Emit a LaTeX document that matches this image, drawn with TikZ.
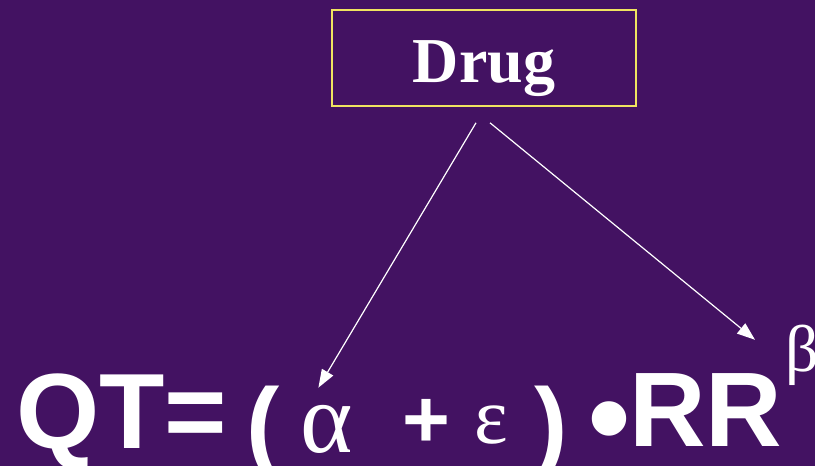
\documentclass[tikz,border=0pt]{standalone}
\usepackage{fontspec}
\usepackage{tikz}
\usetikzlibrary{arrows.meta, positioning}
\setmainfont{Liberation Serif}
\newfontfamily\armfont{Liberation Sans}
\newfontfamily\grkfont{Liberation Serif}
\definecolor{slidebg}{RGB}{67,18,98}
\definecolor{boxline}{RGB}{240,228,96}

\begin{document}
\begin{tikzpicture}[x=1pt, y=-1pt, >={Triangle[length=18pt, width=13pt]},
  glyph/.style={text=white, inner sep=0pt, anchor=base west},
  pointer/.style={->, white, line width=1.2pt}]
  % slide background
  \fill[slidebg] (0,0) rectangle (815,466);
  \useasboundingbox (0,0) rectangle (815,466);
  % drug box
  \node[draw=boxline, line width=1.6pt, text=white, minimum width=304pt, minimum height=96pt,
        text height=48pt, text depth=0pt, font=\bfseries\fontsize{64}{70}\selectfont] (drug) at (484,58) {Drug};
  % formula
  \node[glyph, font=\armfont\bfseries\fontsize{107}{110}\selectfont] (qt) at (16,448) {QT=};
  \node[glyph, font=\armfont\bfseries\fontsize{100}{105}\selectfont] (lpar) at (246,458) {(};
  \node[glyph, font=\grkfont\fontsize{100}{105}\selectfont] (alpha) at (300,452) {α};
  \node[glyph, font=\armfont\bfseries\fontsize{82}{86}\selectfont] (plus) at (402,447) {+};
  \node[glyph, font=\grkfont\fontsize{80}{84}\selectfont] (eps) at (474,443) {ε};
  \node[glyph, font=\armfont\bfseries\fontsize{100}{105}\selectfont] (rpar) at (534,458) {)};
  \node[glyph, font=\armfont\bfseries\fontsize{120}{125}\selectfont] (dot) at (588,458) {•};
  \node[glyph, font=\armfont\bfseries\fontsize{106}{110}\selectfont] (rr) at (629,446) {RR};
  \node[glyph, font=\grkfont\fontsize{66}{70}\selectfont] (beta) at (785,371) {β};
  % drug acts on both terms
  \draw[pointer] ([shift={(-8,16)}]drug.south) -- ([shift={(-8,-17)}]alpha.north);
  \draw[pointer] ([shift={(6,16)}]drug.south) -- ([shift={(-30,-15)}]beta.west);
\end{tikzpicture}
\end{document}
